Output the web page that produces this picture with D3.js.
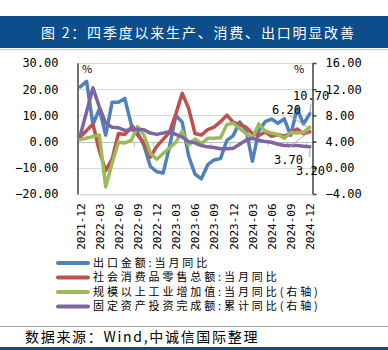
<!DOCTYPE html>
<html><head><meta charset="utf-8">
<script src="https://cdn.jsdelivr.net/npm/d3@7"></script>
<style>
html,body{margin:0;padding:0;background:#fff;}
svg{display:block;}
</style></head>
<body>
<svg id="c" width="388" height="350"></svg>
<script>
const months = ["2021-12","2022-01","2022-02","2022-03","2022-04","2022-05","2022-06","2022-07","2022-08","2022-09","2022-10","2022-11","2022-12",
"2023-01","2023-02","2023-03","2023-04","2023-05","2023-06","2023-07","2023-08","2023-09","2023-10","2023-11","2023-12",
"2024-01","2024-02","2024-03","2024-04","2024-05","2024-06","2024-07","2024-08","2024-09","2024-10","2024-11","2024-12"];
const tickMonths = ["2021-12","2022-03","2022-06","2022-09","2022-12","2023-03","2023-06","2023-09","2023-12","2024-03","2024-06","2024-09","2024-12"];

// 出口金额:当月同比 (left axis)
const exportsYoY = [20.9,23.0,6.5,12.5,2.5,15.0,15.0,16.5,6.5,3.5,-1.5,-9.5,-11.5,
-12.0,-2.0,10.0,7.4,-5.5,-12.4,-14.2,-8.8,-7.0,-6.5,0.5,2.3,
7.5,4.5,-7.5,4.0,7.6,8.6,7.0,8.7,2.4,12.7,6.7,10.7];
// 社会消费品零售总额:当月同比 (left axis)
const retailYoY = [1.7,null,6.7,-3.5,-11.1,-6.7,3.1,2.7,5.4,2.5,-0.5,-5.9,-1.8,
null,3.5,10.6,18.4,12.7,3.1,2.5,4.6,5.5,7.6,10.1,7.4,
null,5.5,3.1,2.3,3.7,2.0,2.7,2.1,3.2,4.8,3.0,3.7];
// 规模以上工业增加值:当月同比 (right axis)
const industryYoY = [4.3,null,null,5.0,-2.9,0.7,3.9,3.8,4.2,6.3,5.0,2.2,1.3,
null,null,3.9,5.6,3.5,4.4,3.7,4.5,4.5,4.6,6.6,6.8,
null,null,4.5,6.7,5.6,5.3,5.1,4.5,5.4,5.3,5.4,6.2];
// 固定资产投资完成额:累计同比 (right axis)
const faiYTD = [4.9,null,12.2,9.3,6.8,6.2,6.1,5.7,5.8,5.9,5.8,5.3,5.1,
null,5.5,5.1,4.7,4.0,3.8,3.4,3.2,3.1,2.9,2.9,3.0,
null,4.2,4.5,4.2,4.0,3.9,3.6,3.4,3.4,3.4,3.3,3.2];

const leftTicks = [-20,-10,0,10,20,30];
const rightTicks = [-4,0,4,8,12,16];

const seriesNames = ["出口金额:当月同比","社会消费品零售总额:当月同比","规模以上工业增加值:当月同比(右轴)","固定资产投资完成额:累计同比(右轴)"];
const seriesColors = ["#4F81BD","#C0504D","#9BBB59","#8064A2"];
const seriesAxis = ["L","L","R","R"];
const seriesData = [exportsYoY, retailYoY, industryYoY, faiYTD];

const titleText = "图 2：四季度以来生产、消费、出口明显改善";
const sourceText = "数据来源：Wind,中诚信国际整理";

const svg = d3.select("#c");
const W = 388;
const plot = {l:77, r:312, t:63, b:194};
const numFont = "'DejaVu Sans Mono', monospace";
const cjkFont = "'Noto Sans CJK SC', 'Noto Sans', sans-serif";

// Title bar
svg.append("rect").attr("x",0).attr("y",16).attr("width",W).attr("height",32).attr("fill","#0C4D8C");
svg.append("line").attr("x1",0).attr("x2",W).attr("y1",49.5).attr("y2",49.5).attr("stroke","#c8c8c8").attr("stroke-width",1);
svg.append("text").attr("x",41).attr("y",37.5).attr("fill","#fff")
  .attr("font-family",cjkFont).attr("font-size",14).attr("letter-spacing",1.8).text(titleText);

const x = d3.scalePoint().domain(months).range([plot.l, plot.r+1]).padding(0.5);
const yL = d3.scaleLinear().domain([-20,30]).range([plot.b, plot.t]);
const yR = d3.scaleLinear().domain([-4,16]).range([plot.b, plot.t]);

// gridlines
svg.append("g").selectAll("line").data(leftTicks).join("line")
  .attr("x1",plot.l).attr("x2",plot.r).attr("y1",d=>Math.round(yL(d))+0.5).attr("y2",d=>Math.round(yL(d))+0.5)
  .attr("stroke","#d9d9d9").attr("stroke-width",1);

// category axis line at 0 with ticks
const zeroY = Math.round(yL(0))+0.5;
svg.append("line").attr("x1",plot.l).attr("x2",plot.r).attr("y1",zeroY).attr("y2",zeroY).attr("stroke","#bfbfbf");
svg.append("g").selectAll("line").data(tickMonths.slice(1)).join("line")
  .attr("x1",d=>x(d)-x.step()/2).attr("x2",d=>x(d)-x.step()/2).attr("y1",zeroY).attr("y2",zeroY+4)
  .attr("stroke","#bfbfbf");

// left axis
const gL = svg.append("g").attr("transform",`translate(${plot.l+0.5},0)`)
  .call(d3.axisLeft(yL).tickValues(leftTicks).tickFormat(d3.format(".2f")).tickSize(0).tickPadding(19));
gL.select(".domain").attr("stroke","#404040").attr("stroke-width",1.5);
gL.selectAll("text").attr("font-family",numFont).attr("font-size",12).attr("fill","#000");

// right axis
const gR = svg.append("g").attr("transform",`translate(${plot.r+0.5},0)`)
  .call(d3.axisRight(yR).tickValues(rightTicks).tickFormat(d3.format(".2f")).tickSize(4).tickSizeOuter(0).tickPadding(9));
gR.select(".domain").attr("stroke","#404040").attr("stroke-width",1.5);
gR.selectAll(".tick line").attr("stroke","#404040").attr("stroke-width",1.5);
gR.selectAll("text").attr("font-family",numFont).attr("font-size",12).attr("fill","#000");

// bottom axis
const gB = svg.append("g").attr("transform",`translate(0,${plot.b+0.5})`)
  .call(d3.axisBottom(x).tickValues(tickMonths).tickSize(0).tickPadding(0));
gB.select(".domain").attr("stroke","#d9d9d9").attr("stroke-width",1);
gB.selectAll("text").attr("font-family",numFont).attr("font-size",11).attr("fill","#000")
  .attr("text-anchor","end").attr("dy","0.35em")
  .attr("transform","translate(0,9) rotate(-90)").attr("x",0).attr("y",0);

// % labels
svg.append("text").attr("x",82).attr("y",73).attr("font-family",cjkFont).attr("font-size",11).text("%");
svg.append("text").attr("x",294).attr("y",73).attr("font-family",cjkFont).attr("font-size",11).text("%");

// series lines
const idx = months.map((m,i)=>i);
seriesData.forEach((arr,k)=>{
  const ys = seriesAxis[k]==="L" ? yL : yR;
  const pts = idx.filter(i=>arr[i]!==null).map(i=>[x(months[i]), ys(arr[i])]);
  svg.append("path").attr("d",d3.line()(pts)).attr("fill","none")
    .attr("stroke",seriesColors[k]).attr("stroke-width",3.5)
    .attr("stroke-linejoin","round").attr("stroke-linecap","round");
});

// data labels with leader lines
const last = months.length-1;
const lx = x(months[last]);
const ann = [
  {v:exportsYoY[last], tx:293, ty:100, lines:[[311,104],[lx,yL(exportsYoY[last])]]},
  {v:industryYoY[last], tx:272, ty:114, lines:[[290,116],[lx-2,yR(industryYoY[last])]]},
  {v:retailYoY[last], tx:274, ty:164, lines:[[288,148],[lx-1,yL(retailYoY[last])]]},
  {v:faiYTD[last], tx:296, ty:175, lines:[[lx,yR(faiYTD[last])+1],[lx,157]]}
];
ann.forEach(a=>{
  svg.append("path").attr("d",d3.line()(a.lines)).attr("stroke","#a6a6a6").attr("stroke-width",1).attr("fill","none");
  svg.append("text").attr("x",a.tx).attr("y",a.ty).attr("font-family",numFont).attr("font-size",12).text(d3.format(".2f")(a.v));
});

// legend
const legY = [263,277.5,292,306.5];
seriesNames.forEach((n,k)=>{
  svg.append("line").attr("x1",58).attr("x2",88).attr("y1",legY[k]).attr("y2",legY[k])
    .attr("stroke",seriesColors[k]).attr("stroke-width",4).attr("stroke-linecap","round");
  svg.append("text").attr("x",93).attr("y",legY[k]).attr("dy","0.36em")
    .attr("font-family",cjkFont).attr("font-size",11).attr("letter-spacing",2.9).text(n);
});

// source
svg.append("line").attr("x1",0).attr("x2",W).attr("y1",326.5).attr("y2",326.5).attr("stroke","#a0a0a0");
svg.append("text").attr("x",25).attr("y",342).attr("font-family",cjkFont).attr("font-size",14)
  .attr("letter-spacing",1.7).text(sourceText);
svg.append("rect").attr("x",0).attr("y",347).attr("width",W).attr("height",3).attr("fill","#0C4D8C");
</script>
</body></html>
